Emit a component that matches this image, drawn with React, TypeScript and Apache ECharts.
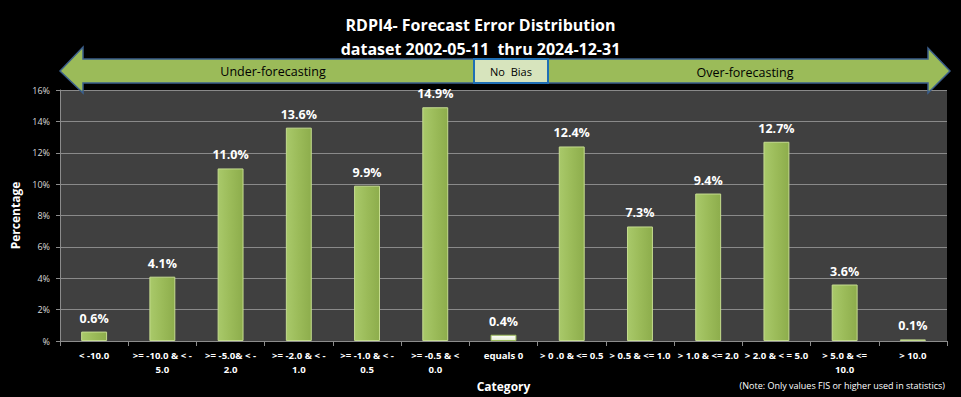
import React, { useEffect, useRef } from "react";
import * as echarts from "echarts";

const categories = [
  "< -10.0",
  ">= -10.0 & < -\n5.0",
  ">= -5.0& < -\n2.0",
  ">= -2.0 & < -\n1.0",
  ">= -1.0 & < -\n0.5",
  ">= -0.5 & <\n0.0",
  "equals 0",
  "> 0 .0 & <= 0.5",
  "> 0.5 & <= 1.0",
  "> 1.0 & <= 2.0",
  "> 2.0 & < = 5.0",
  "> 5.0 & <=\n10.0",
  "> 10.0",
];
const values = [0.6, 4.1, 11.0, 13.6, 9.9, 14.9, 0.4, 12.4, 7.3, 9.4, 12.7, 3.6, 0.1];
const yTicks = [0, 2, 4, 6, 8, 10, 12, 14, 16];
const titleLines = ["RDPI4- Forecast Error Distribution", "dataset 2002-05-11  thru 2024-12-31"];
const arrowLabels = ["Under-forecasting", "No  Bias", "Over-forecasting"];
const noteText = "(Note: Only values FIS or higher used in statistics)";

const FONT = "'Open Sans', 'Noto Sans', sans-serif";

export default function App() {
  const ref = useRef<HTMLDivElement>(null);
  useEffect(() => {
    document.body.style.margin = "0";
    document.body.style.background = "#000";
    const chart = echarts.init(ref.current!, null, { renderer: "svg" });
    const green = new echarts.graphic.LinearGradient(0, 0, 1, 0, [
      { offset: 0, color: "#a9c96a" },
      { offset: 0.5, color: "#9bbb59" },
      { offset: 1, color: "#8dad4c" },
    ]);
    const pale = new echarts.graphic.LinearGradient(0, 0, 0, 1, [
      { offset: 0, color: "#ffffff" },
      { offset: 1, color: "#e4ecd0" },
    ]);
    const arrowStyle = { fill: "#9bbb59", stroke: "#3b5f8c", lineWidth: 1.5 };
    chart.setOption({
      animation: false,
      backgroundColor: "#000",
      title: {
        text: titleLines.join("\n"),
        left: "center",
        top: 8,
        textStyle: { color: "#fff", fontFamily: FONT, fontWeight: "bold", fontSize: 16, lineHeight: 24 },
      },
      grid: {
        left: 60,
        right: 14,
        top: 90,
        bottom: 56,
        show: true,
        backgroundColor: "#404040",
        borderWidth: 0,
        outerBoundsMode: "none",
        containLabel: false,
      },
      xAxis: {
        type: "category",
        data: categories,
        name: "Category",
        nameLocation: "middle",
        nameGap: 35,
        nameTextStyle: { color: "#fff", fontFamily: FONT, fontWeight: "bold", fontSize: 12 },
        axisLine: { lineStyle: { color: "#8c8c8c", width: 1 } },
        axisTick: { show: true, length: 5, lineStyle: { color: "#8c8c8c" } },
        axisLabel: {
          color: "#fff",
          fontFamily: FONT,
          fontWeight: "bold",
          fontSize: 9.6,
          lineHeight: 14,
          margin: 7,
          interval: 0,
        },
      },
      yAxis: {
        type: "value",
        min: 0,
        max: 16,
        interval: 2,
        name: "Percentage",
        nameLocation: "middle",
        nameGap: 34,
        nameTextStyle: { color: "#fff", fontFamily: FONT, fontWeight: "bold", fontSize: 12 },
        axisLine: { show: true, lineStyle: { color: "#8c8c8c" } },
        axisTick: { show: true, length: 4, lineStyle: { color: "#8c8c8c" } },
        splitLine: { lineStyle: { color: "#8a8a8a", width: 1 } },
        axisLabel: {
          color: "#d9d9d9",
          fontFamily: FONT,
          fontSize: 9,
          margin: 10,
          formatter: (v: number) => (yTicks.includes(v) ? (v === 0 ? "%" : v + "%") : ""),
        },
      },
      series: [
        {
          type: "bar",
          data: values.map((v, i) =>
            i === 6
              ? { value: v, itemStyle: { color: pale, borderColor: "#9bbb59", borderWidth: 1 } }
              : v
          ),
          barWidth: "38%",
          itemStyle: { color: green, borderColor: "#c5dc8f", borderWidth: 1 },
          label: {
            show: true,
            position: "top",
            distance: 7,
            color: "#fff",
            fontFamily: FONT,
            fontWeight: "bold",
            fontSize: 12.5,
            formatter: (p: any) => Number(p.value).toFixed(1) + "%",
          },
        },
      ],
      graphic: [
        {
          type: "polygon",
          shape: {
            points: [
              [60, 71],
              [83, 47],
              [83, 59],
              [474, 59],
              [474, 83],
              [83, 83],
              [83, 93],
            ],
          },
          style: arrowStyle,
          z: 10,
        },
        {
          type: "polygon",
          shape: {
            points: [
              [950, 71],
              [928, 48],
              [928, 59],
              [548, 59],
              [548, 83],
              [928, 83],
              [928, 93],
            ],
          },
          style: arrowStyle,
          z: 10,
        },
        {
          type: "rect",
          shape: { x: 474, y: 59, width: 74, height: 24 },
          style: { fill: "#d7e4bd", stroke: "#1f6fb5", lineWidth: 2 },
          z: 11,
        },
        {
          type: "text",
          x: 273,
          y: 71,
          style: { text: arrowLabels[0], fill: "#000", font: `12.5px ${FONT}`, align: "center", verticalAlign: "middle" },
          z: 12,
        },
        {
          type: "text",
          x: 511,
          y: 71,
          style: { text: arrowLabels[1], fill: "#000", font: `11px ${FONT}`, align: "center", verticalAlign: "middle" },
          z: 12,
        },
        {
          type: "text",
          x: 745,
          y: 72,
          style: { text: arrowLabels[2], fill: "#000", font: `12.5px ${FONT}`, align: "center", verticalAlign: "middle" },
          z: 12,
        },
        {
          type: "text",
          x: 945,
          y: 385,
          style: { text: noteText, fill: "#fff", font: `9px ${FONT}`, align: "right", verticalAlign: "middle" },
          z: 12,
        },
      ],
    });
    return () => chart.dispose();
  }, []);
  return <div ref={ref} style={{ width: 961, height: 397 }} />;
}
